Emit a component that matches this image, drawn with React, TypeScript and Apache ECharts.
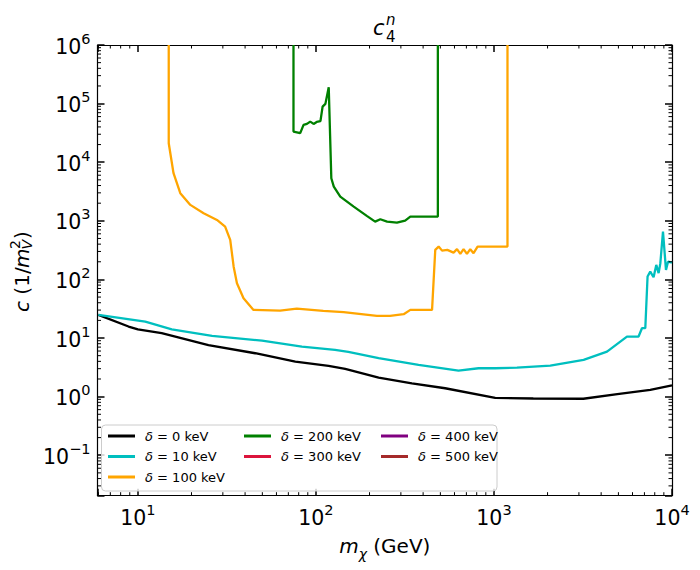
import React, { useEffect, useRef } from "react";
import * as echarts from "echarts";

const FONT = '"DejaVu Sans", sans-serif';

const X_MIN = 5.93;
const X_MAX = 10000;
const Y_MIN = 0.0204;
const Y_MAX = 1e6;

// delta = 0 keV
const mass0 = [6.0, 8.86, 10.0, 13.6, 24.9, 45.6, 76.6, 117.8, 146, 225, 346, 532, 1016, 1663, 3177, 4930, 7550, 10000];
const c0 = [24.8, 15.7, 14.0, 12.1, 7.6, 5.5, 3.96, 3.34, 2.97, 2.11, 1.69, 1.39, 0.95, 0.93, 0.92, 1.1, 1.3, 1.55];

// delta = 10 keV
const mass10 = [6.0, 11.0, 15.5, 26.1, 49.8, 83.4, 128, 152, 225, 377, 632, 819, 1016, 1346, 2072, 3188, 4315, 5585, 6490, 6780, 7080, 7290, 7550, 7880, 8160, 8410, 8600, 8900, 9250, 9500, 10000];
const c10 = [24.8, 19.05, 14.1, 10.9, 9.03, 7.13, 6.27, 5.79, 4.52, 3.48, 2.78, 3.05, 3.05, 3.13, 3.38, 4.23, 5.86, 10.6, 10.6, 14.7, 14.7, 112, 136, 109, 177, 128, 189, 655, 145, 201, 194];

// delta = 100 keV
const mass100 = [14.9, 14.9, 15.85, 17.3, 19.7, 23.4, 27.8, 30.9, 33.0, 34.5, 36.0, 39.2, 44.6, 62.9, 78.1, 110, 143, 220, 261, 311, 339, 449, 468, 489, 511, 547, 593, 620, 647, 675, 705, 736, 768, 809, 1191, 1191];
const c100 = [1e6, 21100, 6490, 2960, 1870, 1349, 1036, 796, 472, 165, 86, 47.8, 30.2, 29.4, 31.7, 29.0, 27.6, 23.8, 23.8, 25.5, 30.2, 30.2, 319, 363, 310, 319, 287, 328, 272, 328, 272, 328, 280, 363, 363, 1e6];

// delta = 200 keV
const mass200 = [74.8, 74.8, 81.6, 85.2, 89.0, 92.9, 97.0, 101, 106, 109, 113, 118, 122, 126, 137, 163, 193, 215, 230, 251, 285, 317, 339, 484, 484];
const c200 = [1e6, 33300, 31300, 43300, 45000, 49300, 45000, 48700, 50100, 88900, 98900, 190000, 5330, 3830, 2590, 1747, 1213, 969, 1065, 969, 931, 1008, 1180, 1180, 1e6];

const seriesNames = ["δ = 0 keV", "δ = 10 keV", "δ = 100 keV", "δ = 200 keV", "δ = 300 keV", "δ = 400 keV", "δ = 500 keV"];
const seriesColors = ["#000000", "#00bfbf", "#ffa500", "#008000", "#dc143c", "#800080", "#a52a2a"];
const seriesMass = [mass0, mass10, mass100, mass200, [], [], []];
const seriesC = [c0, c10, c100, c200, [], [], []];

const legendColumns = [
  ["δ = 0 keV", "δ = 10 keV", "δ = 100 keV"],
  ["δ = 200 keV", "δ = 300 keV"],
  ["δ = 400 keV", "δ = 500 keV"],
];

const minorMultipliers = [2, 3, 4, 5, 6, 7, 8, 9];
const xDecades = [0, 1, 2, 3];
const yDecades = [-2, -1, 0, 1, 2, 3, 4, 5];

function minorValues(decades: number[], lo: number, hi: number) {
  const out: number[] = [];
  decades.forEach((d) =>
    minorMultipliers.forEach((m) => {
      const v = m * Math.pow(10, d);
      if (v > lo * 1.0001 && v < hi * 0.9999) out.push(v);
    })
  );
  return out;
}

const tickFormatter = (v: number) => {
  const e = Math.log10(v);
  const r = Math.round(e);
  if (Math.abs(e - r) > 1e-6) return "";
  const s = r < 0 ? "\u2212" + -r : String(r);
  return `{b|10}{s|${s}}`;
};

const tickRich = {
  b: { fontSize: 20.5, fontFamily: FONT, color: "#000", lineHeight: 24, verticalAlign: "bottom" },
  s: { fontSize: 14.5, fontFamily: FONT, color: "#000", lineHeight: 14, verticalAlign: "bottom", padding: [0, 0, 11, 0] },
};

function makeXAxis(primary: boolean) {
  return {
    type: "log",
    logBase: 10,
    min: X_MIN,
    max: X_MAX,
    position: primary ? "bottom" : "top",
    axisLine: { show: true, onZero: false, lineStyle: { color: "#000", width: 1.2 } },
    axisTick: { show: true, inside: true, length: 7, lineStyle: { color: "#000", width: 1.5 } },
    splitLine: { show: false },
    minorTick: { show: false },
    axisLabel: primary
      ? { show: true, margin: 9, formatter: tickFormatter, rich: tickRich, showMinLabel: true, showMaxLabel: true }
      : { show: false },
    name: primary ? "{i|m}{sub|χ}{r| (GeV)}" : "",
    nameLocation: "middle",
    nameGap: 40,
    nameTextStyle: {
      fontSize: 20,
      fontFamily: FONT,
      color: "#000",
      rich: {
        i: { fontSize: 20, fontFamily: FONT, fontStyle: "italic", verticalAlign: "top", lineHeight: 24 },
        r: { fontSize: 20, fontFamily: FONT, verticalAlign: "top", lineHeight: 24 },
        sub: { fontSize: 14, fontFamily: FONT, fontStyle: "italic", verticalAlign: "top", lineHeight: 14, padding: [11, 0, 0, 0] },
      },
    },
  };
}

function makeYAxis(primary: boolean) {
  return {
    type: "log",
    logBase: 10,
    min: Y_MIN,
    max: Y_MAX,
    position: primary ? "left" : "right",
    axisLine: { show: true, onZero: false, lineStyle: { color: "#000", width: 1.2 } },
    axisTick: { show: true, inside: true, length: 7, lineStyle: { color: "#000", width: 1.5 } },
    splitLine: { show: false },
    minorTick: { show: false },
    axisLabel: primary
      ? { show: true, margin: 7, formatter: tickFormatter, rich: tickRich, showMinLabel: true, showMaxLabel: true }
      : { show: false },
  };
}

export default function App() {
  const ref = useRef<HTMLDivElement>(null);
  useEffect(() => {
    if (!ref.current) return;
    const chart = echarts.init(ref.current, null, { renderer: "svg" });

    const xMinor = minorValues(xDecades, X_MIN, X_MAX).map((v) => [v, Y_MIN, 0]);
    const yMinor = minorValues(yDecades, Y_MIN, Y_MAX).map((v) => [X_MIN, v, 1]);

    const lineSeries = seriesNames.map((name, i) => ({
      name,
      type: "line",
      data: seriesMass[i].map((m, j) => [m, seriesC[i][j]]),
      showSymbol: false,
      symbol: "none",
      clip: true,
      color: seriesColors[i],
      lineStyle: { color: seriesColors[i], width: 2.3 },
      z: 3,
    }));

    const minorSeries = {
      type: "custom",
      silent: true,
      clip: false,
      z: 4,
      data: [...xMinor, ...yMinor],
      renderItem: (params: any, api: any) => {
        const kind = api.value(2);
        const len = 3.5;
        const style = { stroke: "#000", lineWidth: 1 };
        if (kind === 0) {
          const v = api.value(0);
          const b = api.coord([v, Y_MIN]);
          const t = api.coord([v, Y_MAX]);
          return {
            type: "group",
            children: [
              { type: "line", shape: { x1: b[0], y1: b[1], x2: b[0], y2: b[1] - len }, style },
              { type: "line", shape: { x1: t[0], y1: t[1], x2: t[0], y2: t[1] + len }, style },
            ],
          };
        }
        const v = api.value(1);
        const l = api.coord([X_MIN, v]);
        const r = api.coord([X_MAX, v]);
        return {
          type: "group",
          children: [
            { type: "line", shape: { x1: l[0], y1: l[1], x2: l[0] + len, y2: l[1] }, style },
            { type: "line", shape: { x1: r[0], y1: r[1], x2: r[0] - len, y2: r[1] }, style },
          ],
        };
      },
    };

    const legendTops = [428, 428, 428];
    const legendLefts = [108, 244, 381];

    const yNameFont = '20px "DejaVu Sans"';
    const yNameItalic = 'italic 20px "DejaVu Sans"';
    const ySmall = '14px "DejaVu Sans"';
    const ySmallItalic = 'italic 14px "DejaVu Sans"';

    const option = {
      animation: false,
      backgroundColor: "#fff",
      grid: { left: 97.5, right: 28, top: 45, bottom: 74.3, containLabel: false },
      xAxis: [makeXAxis(true), makeXAxis(false)],
      yAxis: [makeYAxis(true), makeYAxis(false)],
      legend: legendColumns.map((col, k) => ({
        data: col,
        orient: "vertical",
        left: legendLefts[k],
        top: legendTops[k],
        padding: 0,
        itemGap: 4.5,
        itemWidth: 27,
        itemHeight: 3,
        icon: "rect",
        selectedMode: false,
        z: 6,
        formatter: (n: string) => "{i|δ}" + n.slice(1),
        textStyle: {
          fontSize: 13,
          fontFamily: FONT,
          color: "#000",
          lineHeight: 16,
          padding: [0, 0, 0, 5],
          rich: {
            i: { fontSize: 13, fontFamily: FONT, fontStyle: "italic", lineHeight: 16 },
          },
        },
      })),
      graphic: [
        {
          type: "rect",
          z: 5,
          shape: { x: 101.5, y: 425, width: 395.5, height: 66, r: 4 },
          style: { fill: "rgba(255,255,255,0.8)", stroke: "#cccccc", lineWidth: 1 },
        },
        {
          type: "text",
          z: 6,
          style: { text: "c", x: 373, y: 28, font: 'italic 21px "DejaVu Sans"', fill: "#000", textVerticalAlign: "middle" },
        },
        {
          type: "text",
          z: 6,
          style: { text: "n", x: 386, y: 19.5, font: 'italic 15px "DejaVu Sans"', fill: "#000", textVerticalAlign: "middle" },
        },
        {
          type: "text",
          z: 6,
          style: { text: "4", x: 386, y: 36.5, font: '15px "DejaVu Sans"', fill: "#000", textVerticalAlign: "middle" },
        },
        {
          type: "group",
          x: 22,
          y: 271,
          rotation: Math.PI / 2,
          z: 6,
          children: [
            { type: "text", style: { text: "c", x: -41, y: 0, font: yNameItalic, fill: "#000", textVerticalAlign: "middle" } },
            { type: "text", style: { text: " (1/", x: -30, y: 0, font: yNameFont, fill: "#000", textVerticalAlign: "middle" } },
            { type: "text", style: { text: "m", x: 3, y: 0, font: yNameItalic, fill: "#000", textVerticalAlign: "middle" } },
            { type: "text", style: { text: "V", x: 21.5, y: 4.5, font: ySmallItalic, fill: "#000", textVerticalAlign: "middle" } },
            { type: "text", style: { text: "2", x: 22, y: -7, font: ySmall, fill: "#000", textVerticalAlign: "middle" } },
            { type: "text", style: { text: ")", x: 32, y: 0, font: yNameFont, fill: "#000", textVerticalAlign: "middle" } },
          ],
        },
      ],
      series: [...lineSeries, minorSeries],
    };

    chart.setOption(option as any);
    return () => chart.dispose();
  }, []);

  return (
    <div
      ref={ref}
      style={{ position: "fixed", left: 0, top: 0, width: 700, height: 570, background: "#fff" }}
    />
  );
}
